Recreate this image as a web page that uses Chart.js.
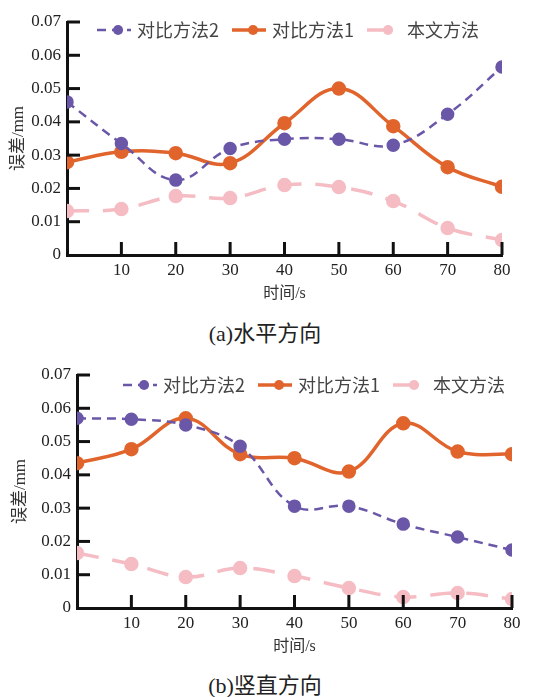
<!DOCTYPE html>
<html>
<head>
<meta charset="utf-8">
<script src="https://cdn.jsdelivr.net/npm/chart.js@4/dist/chart.umd.min.js"></script>
<style>
body { margin: 0; background: #fff; width: 542px; height: 697px; position: relative; overflow: hidden; }
.box { position: absolute; left: 0; width: 542px; height: 305px; }
.cap { position: absolute; left: 0; width: 530px; text-align: center; font: 22px/22px "Liberation Serif", "Noto Sans CJK SC"; color: #222; }
</style>
</head>
<body>
<div class="box" style="top:0"><canvas id="chartA" width="542" height="305"></canvas></div>
<div class="cap" style="top:323px">(a)水平方向</div>
<div class="box" style="top:353px"><canvas id="chartB" width="542" height="305"></canvas></div>
<div class="cap" style="top:675px">(b)竖直方向</div>
<script>
// time axis (s)
var timeSec = [0, 10, 20, 30, 40, 50, 60, 70, 80];
var seriesNames = ['对比方法2', '对比方法1', '本文方法'];

// (a) horizontal error, mm
var horizMethod2 = [0.046, 0.0335, 0.0225, 0.032, 0.0348, 0.0348, 0.033, 0.0423, 0.0565];
var horizMethod1 = [0.0279, 0.031, 0.0306, 0.0276, 0.0396, 0.050, 0.0387, 0.0264, 0.0205];
var horizOurs    = [0.0132, 0.0138, 0.0177, 0.0171, 0.021, 0.0204, 0.0162, 0.0081, 0.0045];

// (b) vertical error, mm
var vertMethod2 = [0.057, 0.0567, 0.055, 0.0486, 0.0306, 0.0306, 0.0252, 0.0213, 0.0174];
var vertMethod1 = [0.0435, 0.0477, 0.057, 0.0462, 0.045, 0.041, 0.0555, 0.047, 0.0462];
var vertOurs    = [0.0165, 0.0132, 0.0093, 0.012, 0.0096, 0.006, 0.0033, 0.0045, 0.0027];

var purple = '#6a57a8';
var orange = '#e0642b';
var pink = '#f5bcc3';

function toPoints(vals) {
    return vals.map(function (v, i) { return { x: timeSec[i], y: v }; });
}

// ticks drawn inside the plot, like the original figure
var inwardTicks = {
    id: 'inwardTicks',
    afterDraw: function (chart) {
        var ctx = chart.ctx, area = chart.chartArea;
        var xs = chart.scales.x, ys = chart.scales.y;
        ctx.save();
        ctx.strokeStyle = '#111';
        ctx.lineWidth = 3;
        ys.ticks.forEach(function (t) {
            if (t.value === 0) return;
            var py = ys.getPixelForValue(t.value);
            ctx.beginPath();
            ctx.moveTo(area.left, py);
            ctx.lineTo(area.left + 13, py);
            ctx.stroke();
        });
        xs.ticks.forEach(function (t) {
            if (t.value === 0) return;
            var px = xs.getPixelForValue(t.value);
            ctx.beginPath();
            ctx.moveTo(px, area.bottom);
            ctx.lineTo(px, area.bottom - 13);
            ctx.stroke();
        });
        ctx.restore();
    }
};

// legend with line + marker, drawn over the top of the plot
var lineLegend = {
    id: 'lineLegend',
    afterDraw: function (chart, args, opts) {
        var ctx = chart.ctx;
        var x = chart.chartArea.left + opts.offsetX;
        var y = chart.chartArea.top + opts.offsetY;
        ctx.save();
        ctx.font = '18px "Noto Sans CJK SC"';
        ctx.textBaseline = 'middle';
        chart.data.datasets.forEach(function (ds) {
            ctx.strokeStyle = ds.borderColor;
            ctx.lineWidth = ds.borderWidth;
            ctx.setLineDash(ds.borderDash || []);
            ctx.beginPath();
            ctx.moveTo(x, y);
            ctx.lineTo(x + opts.lineLen, y);
            ctx.stroke();
            ctx.setLineDash([]);
            ctx.fillStyle = ds.pointBackgroundColor;
            ctx.beginPath();
            ctx.arc(x + opts.lineLen * 0.62, y, 5, 0, Math.PI * 2);
            ctx.fill();
            x += opts.lineLen + 6;
            ctx.fillStyle = '#444';
            ctx.fillText(ds.label, x, y);
            x += ctx.measureText(ds.label).width + 13;
        });
        ctx.restore();
    }
};

var tickFont = { family: '"Liberation Serif"', size: 17 };

function makeChart(id, m2, m1, ours, cfg) {
    return new Chart(document.getElementById(id), {
        type: 'line',
        data: {
            datasets: [
                {
                    label: seriesNames[0], data: toPoints(m2),
                    borderColor: purple, borderWidth: 2.5, borderDash: [9, 6],
                    pointBackgroundColor: purple, pointBorderColor: purple,
                    pointRadius: 5.5, tension: 0.4
                },
                {
                    label: seriesNames[1], data: toPoints(m1),
                    borderColor: orange, borderWidth: 3.5,
                    pointBackgroundColor: orange, pointBorderColor: orange,
                    pointRadius: 5.5, tension: 0.4
                },
                {
                    label: seriesNames[2], data: toPoints(ours),
                    borderColor: pink, borderWidth: 3.5, borderDash: [22, 14],
                    pointBackgroundColor: pink, pointBorderColor: pink,
                    pointRadius: 5.5, tension: 0.4
                }
            ]
        },
        options: {
            responsive: false,
            animation: false,
            layout: { padding: { left: 0, right: cfg.right, top: 22, bottom: 0 } },
            plugins: {
                legend: { display: false },
                tooltip: { enabled: false },
                lineLegend: { offsetX: cfg.legendX, offsetY: cfg.legendY, lineLen: 34 }
            },
            scales: {
                x: {
                    type: 'linear', min: 0, max: 80,
                    ticks: {
                        stepSize: 10, padding: 5, font: tickFont, color: '#222', maxRotation: 0,
                        callback: function (v) { return v === 0 ? '' : v; }
                    },
                    grid: { drawOnChartArea: false, drawTicks: false },
                    border: { color: '#111', width: 3 },
                    title: {
                        display: true, text: '时间/s', color: '#333',
                        font: { family: '"Liberation Serif", "Noto Sans CJK SC"', size: 16 },
                        padding: { top: 0, bottom: 2 }
                    },
                    afterFit: function (s) { s.height = 50; }
                },
                y: {
                    min: 0, max: 0.07,
                    ticks: {
                        stepSize: 0.01, padding: 6, font: tickFont, color: '#222',
                        callback: function (v) { return v === 0 ? '0' : v.toFixed(2); }
                    },
                    grid: { drawOnChartArea: false, drawTicks: false },
                    border: { color: '#111', width: 3 },
                    title: {
                        display: true, text: '误差/mm', color: '#333',
                        font: { family: '"Liberation Serif", "Noto Sans CJK SC"', size: 17 },
                        padding: { top: cfg.yTitlePad, bottom: 0 }
                    },
                    afterFit: function (s) { s.width = cfg.left; }
                }
            }
        },
        plugins: [inwardTicks, lineLegend]
    });
}

makeChart('chartA', horizMethod2, horizMethod1, horizOurs,
    { left: 67, right: 40, legendX: 30, legendY: 8, yTitlePad: 8 });
makeChart('chartB', vertMethod2, vertMethod1, vertOurs,
    { left: 77, right: 30, legendX: 46, legendY: 10, yTitlePad: 10 });
</script>
</body>
</html>
